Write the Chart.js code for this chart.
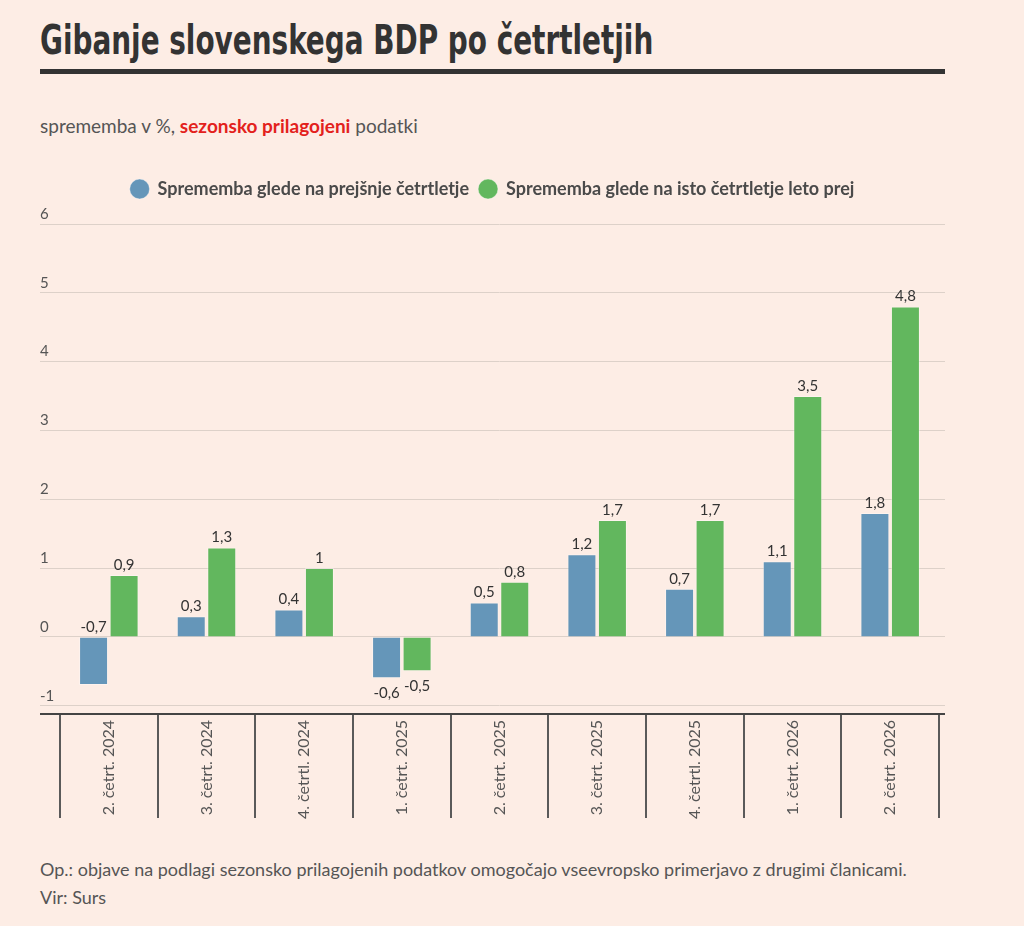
<!DOCTYPE html>
<html>
<head>
<meta charset="utf-8">
<title>Gibanje slovenskega BDP po četrtletjih</title>
<script src="https://cdn.jsdelivr.net/npm/chart.js@4.4.1/dist/chart.umd.min.js"></script>
<style>
  html, body { margin: 0; padding: 0; background: #fdede5; }
  body { width: 1024px; height: 926px; position: relative; overflow: hidden; font-family: Lato, sans-serif; color: #555; }
  #title { position: absolute; left: 40px; top: 16px; margin: 0; white-space: nowrap;
           font-family: 'DejaVu Sans Condensed', sans-serif; font-weight: bold; font-size: 40px; line-height: 48px; color: #333;
           transform: scaleX(0.775); transform-origin: left top; }
  #rule { position: absolute; left: 40px; top: 69px; width: 905px; height: 5px; background: #333; }
  #sub { position: absolute; left: 40px; top: 114px; font-size: 19px; line-height: 24px; }
  #sub b { color: #e3211c; }
  #wrap { position: absolute; left: 40px; top: 170px; width: 905px; height: 650px; }
  #note { position: absolute; left: 40px; top: 855px; font-size: 18px; line-height: 28px; }
</style>
</head>
<body>
<h1 id="title">Gibanje slovenskega BDP po četrtletjih</h1>
<div id="rule"></div>
<div id="sub">sprememba v %, <b>sezonsko prilagojeni</b> podatki</div>
<div id="wrap"><canvas id="gdpChart"></canvas></div>
<div id="note">Op.: objave na podlagi sezonsko prilagojenih podatkov omogočajo vseevropsko primerjavo z drugimi članicami.<br>Vir: Surs</div>
<script>
// data
const categories = ['2. četrt. 2024', '3. četrt. 2024', '4. četrtl. 2024', '1. četrt. 2025', '2. četrt. 2025',
                    '3. četrt. 2025', '4. četrtl. 2025', '1. četrt. 2026', '2. četrt. 2026'];
const prevQuarter = [-0.7, 0.3, 0.4, -0.6, 0.5, 1.2, 0.7, 1.1, 1.8];
const sameQuarterLastYear = [0.9, 1.3, 1, -0.5, 0.8, 1.7, 1.7, 3.5, 4.8];
const seriesNames = ['Sprememba glede na prejšnje četrtletje', 'Sprememba glede na isto četrtletje leto prej'];
const yTicks = [-1, 0, 1, 2, 3, 4, 5, 6];
const yMin = -1.12;
const yMax = 6;

const gridColor = '#ddd1c9';
const axisColor = '#444';

// keep the integer ticks plus the bottom edge (drawn as the dark axis line)
const setTicks = scale => { scale.ticks = [yMin, ...yTicks].map(v => ({ value: v })); };
const lineColor = c => c.tick && c.tick.value === yMin ? axisColor : gridColor;
const lineWidth = c => c.tick && c.tick.value === yMin ? 2 : 1;

// value labels above / below the bars, with decimal comma
const valueLabels = {
    id: 'valueLabels',
    afterDatasetsDraw(chart) {
        const { ctx, chartArea } = chart;
        const zero = chart.scales.y.getPixelForValue(0);
        ctx.save();
        ctx.font = '15px Lato';
        ctx.fillStyle = '#333';
        ctx.textAlign = 'center';
        ctx.textBaseline = 'middle';
        chart.data.datasets.forEach((ds, i) => {
            chart.getDatasetMeta(i).data.forEach((bar, j) => {
                const v = ds.data[j];
                const text = String(v).replace('.', ',');
                if (v >= 0) {
                    ctx.fillText(text, bar.x, bar.y - 10);
                } else if (bar.y + 22 > chartArea.bottom - 10) {
                    // no room under the bar: put it above the zero line
                    ctx.fillText(text, bar.x, zero - 10);
                } else {
                    ctx.fillText(text, bar.x, bar.y + 15);
                }
            });
        });
        ctx.restore();
    }
};

// fixed legend block height so the plot starts where the reference does
const legendGap = {
    id: 'legendGap',
    beforeInit(chart) {
        const fit = chart.legend.fit;
        chart.legend.fit = function () {
            fit.bind(chart.legend)();
            this.height = 54;
        };
    }
};

new Chart(document.getElementById('gdpChart'), {
    type: 'bar',
    data: {
        labels: categories,
        datasets: [{
            label: seriesNames[0],
            data: prevQuarter,
            backgroundColor: '#6596b9',
            borderColor: 'rgba(255,255,255,0.35)',
            borderWidth: 1,
            categoryPercentage: 0.625,
            barPercentage: 0.95
        }, {
            label: seriesNames[1],
            data: sameQuarterLastYear,
            backgroundColor: '#62b75e',
            borderColor: 'rgba(255,255,255,0.35)',
            borderWidth: 1,
            categoryPercentage: 0.625,
            barPercentage: 0.95
        }]
    },
    options: {
        responsive: true,
        maintainAspectRatio: false,
        animation: false,
        layout: { padding: 0 },
        plugins: {
            tooltip: { enabled: false },
            legend: {
                position: 'top',
                labels: {
                    usePointStyle: true,
                    pointStyle: 'circle',
                    boxWidth: 28,
                    boxHeight: 14,
                    padding: 10,
                    color: '#4a4a4a',
                    font: { family: 'Lato', size: 18, weight: 'bold' }
                }
            }
        },
        scales: {
            x: {
                offset: true,
                afterFit: s => { s.height = 106; },
                border: { display: false },
                grid: { offset: true, drawOnChartArea: false, tickLength: 104, color: '#5a5a5a', lineWidth: 2 },
                ticks: {
                    autoSkip: false, minRotation: 90, maxRotation: 90, padding: -98,
                    color: '#555', font: { family: 'Lato', size: 16 }
                }
            },
            y: {
                min: yMin,
                max: yMax,
                afterBuildTicks: setTicks,
                afterFit: s => { s.width = 20; },
                border: { display: false },
                grid: { tickLength: 20, color: lineColor, lineWidth: lineWidth },
                ticks: {
                    mirror: true, padding: -20, labelOffset: -10,
                    color: '#555', font: { family: 'Lato', size: 15 },
                    callback: v => v === yMin ? '' : String(v)
                }
            },
            y2: {
                position: 'right',
                min: yMin,
                max: yMax,
                afterBuildTicks: setTicks,
                afterFit: s => { s.width = 6; },
                border: { display: false },
                grid: { drawOnChartArea: false, tickLength: 6, color: lineColor, lineWidth: lineWidth },
                ticks: { display: false }
            }
        }
    },
    plugins: [valueLabels, legendGap]
});
</script>
</body>
</html>
